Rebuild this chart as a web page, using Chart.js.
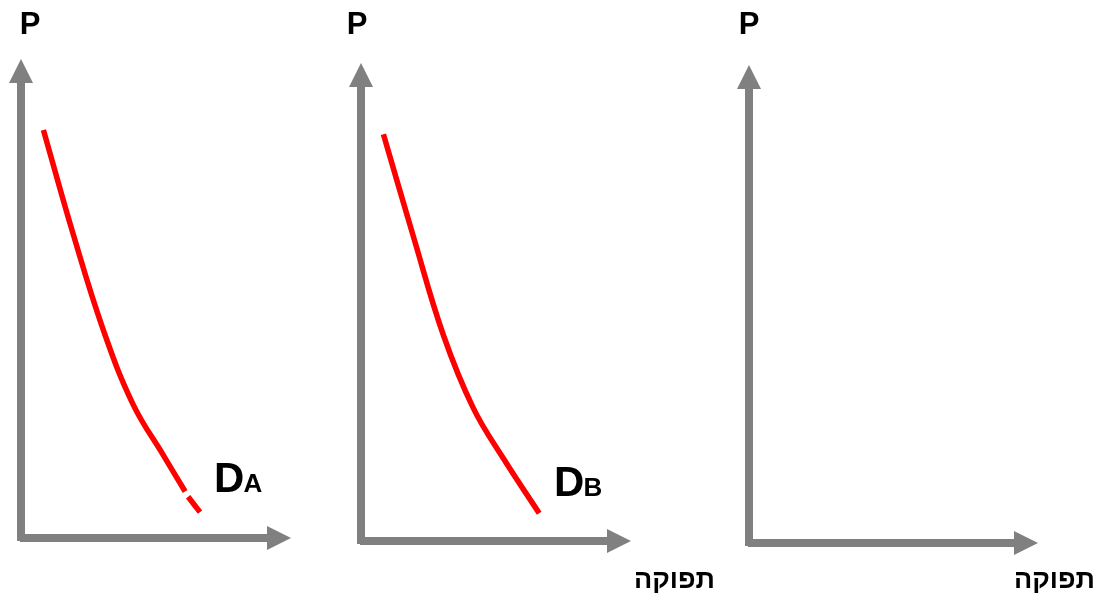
<!DOCTYPE html>
<html>
<head>
<meta charset="utf-8">
<script src="https://cdn.jsdelivr.net/npm/chart.js@4.4.1/dist/chart.umd.min.js"></script>
<style>
html, body { margin: 0; padding: 0; background: #fff; }
#wrap { position: relative; width: 1099px; height: 596px; }
#wrap canvas { position: absolute; left: 0; top: 0; }
</style>
</head>
<body>
<div id="wrap">
  <canvas id="panelA" width="1099" height="596"></canvas>
  <canvas id="panelB" width="1099" height="596"></canvas>
  <canvas id="panelC" width="1099" height="596"></canvas>
</div>
<script>
/* demand curves (quantity 0-10, price 0-10) */
var qtyA   = [0.83, 1.94, 3.05, 4.16, 5.27, 6.08, 6.13, 6.19, 6.63];
var priceA = [8.52, 6.33, 4.34, 2.78, 1.73, 0.97, null, 0.86, 0.54];

var qtyB   = [0.83, 1.94, 3.05, 4.16, 5.27, 6.60];
var priceB = [8.51, 6.37, 4.31, 2.78, 1.73, 0.58];

var axisLabelP = 'P';
var axisLabelQ = 'תפוקה';

var AXIS_GREY = '#808080';

function toPoints(xs, ys) {
    return xs.map(function (x, i) { return { x: x, y: ys[i] }; });
}

/* draws the arrow axes and the texts of one panel */
var diagramPlugin = {
    id: 'diagram',
    beforeDatasetsDraw: function (chart, args, opts) {
        var ctx = chart.ctx;
        var sx = chart.scales.x, sy = chart.scales.y;
        var x0 = sx.getPixelForValue(0), y0 = sy.getPixelForValue(0);
        var xEnd = sx.getPixelForValue(10), yEnd = sy.getPixelForValue(10);
        var head = 24, half = 12;

        ctx.save();
        ctx.strokeStyle = AXIS_GREY;
        ctx.fillStyle = AXIS_GREY;
        ctx.lineWidth = 8;
        ctx.lineCap = 'butt';

        // vertical axis
        ctx.beginPath();
        ctx.moveTo(x0, y0 + 3);
        ctx.lineTo(x0, yEnd + head);
        ctx.stroke();
        ctx.beginPath();
        ctx.moveTo(x0, yEnd);
        ctx.lineTo(x0 - half, yEnd + head);
        ctx.lineTo(x0 + half, yEnd + head);
        ctx.closePath();
        ctx.fill();

        // horizontal axis
        ctx.beginPath();
        ctx.moveTo(x0 - 1, y0);
        ctx.lineTo(xEnd - head, y0);
        ctx.stroke();
        ctx.beginPath();
        ctx.moveTo(xEnd, y0);
        ctx.lineTo(xEnd - head, y0 - half);
        ctx.lineTo(xEnd - head, y0 + half);
        ctx.closePath();
        ctx.fill();
        ctx.restore();
    },
    afterDatasetsDraw: function (chart, args, opts) {
        var ctx = chart.ctx;
        var sx = chart.scales.x, sy = chart.scales.y;
        var x0 = sx.getPixelForValue(0);

        ctx.save();
        ctx.fillStyle = '#000';
        ctx.textBaseline = 'alphabetic';

        // P over the price axis
        ctx.font = 'bold 31px "Liberation Sans", Arial, sans-serif';
        ctx.textAlign = 'center';
        ctx.fillText(axisLabelP, x0 + opts.pShift, 34);

        // demand label, D with small subscript letter
        if (opts.demand) {
            var lx = sx.getPixelForValue(7.15);
            var ly = sy.getPixelForValue(0.95);
            ctx.textAlign = 'left';
            ctx.font = 'bold 42px "Liberation Sans", Arial, sans-serif';
            ctx.fillText('D', lx, ly);
            var w = ctx.measureText('D').width;
            ctx.font = 'bold 26px "Liberation Sans", Arial, sans-serif';
            ctx.fillText(opts.demand, lx + w - 1, ly);
        }

        // quantity label
        if (opts.showQ) {
            ctx.font = 'bold 27px "Liberation Sans", "DejaVu Sans", sans-serif';
            ctx.textAlign = 'right';
            ctx.direction = 'rtl';
            ctx.fillText(axisLabelQ, opts.qRight, 588);
        }
        ctx.restore();
    }
};

function makePanel(id, padding, data, opts) {
    return new Chart(document.getElementById(id).getContext('2d'), {
        type: 'line',
        data: {
            datasets: data ? [{
                data: data,
                borderColor: '#ff0000',
                borderWidth: 5.5,
                pointRadius: 0,
                fill: false,
                spanGaps: false,
                tension: 0.4,
                clip: false
            }] : []
        },
        options: {
            responsive: false,
            animation: false,
            events: [],
            layout: { padding: padding },
            scales: {
                x: { type: 'linear', min: 0, max: 10, display: false },
                y: { type: 'linear', min: 0, max: 10, display: false }
            },
            plugins: {
                legend: { display: false },
                tooltip: { enabled: false },
                diagram: opts
            }
        },
        plugins: [diagramPlugin]
    });
}

makePanel('panelA', { left: 21, right: 808, top: 59, bottom: 58 },
    toPoints(qtyA, priceA), { pShift: 9, demand: 'A', showQ: false });
makePanel('panelB', { left: 361, right: 468, top: 63, bottom: 55 },
    toPoints(qtyB, priceB), { pShift: -4, demand: 'B', showQ: true, qRight: 715 });
makePanel('panelC', { left: 749, right: 61, top: 65, bottom: 53 },
    null, { pShift: 0, demand: null, showQ: true, qRight: 1095 });
</script>
</body>
</html>
